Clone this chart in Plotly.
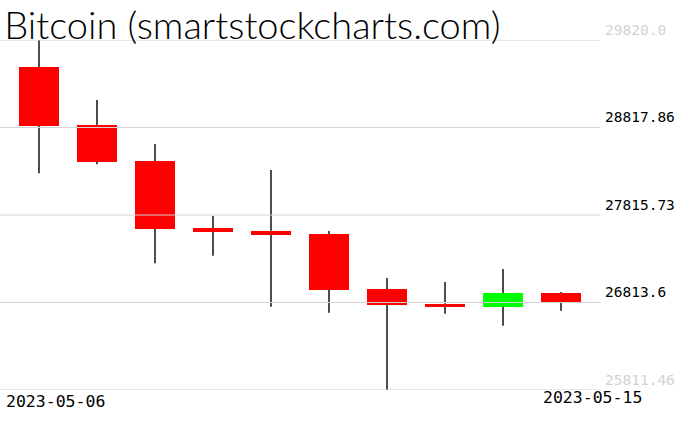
import plotly.graph_objects as go

dates = ['2023-05-06', '2023-05-07', '2023-05-08', '2023-05-09', '2023-05-10',
         '2023-05-11', '2023-05-12', '2023-05-13', '2023-05-14', '2023-05-15']
open_ = [29510, 28846, 28434, 27667, 27636, 27598, 26968, 26800, 26765, 26922]
high = [29820.0, 29133, 28629, 27804, 28331, 27632, 27094, 27048, 27197, 26934]
low = [28293, 28396, 27263, 27350, 26766, 26697, 25811.46, 26685, 26548, 26720]
close = [28840, 28426, 27659, 27625, 27590, 26960, 26788, 26762, 26922, 26819]

tick_vals = [25811.46, 26813.595, 27815.73, 28817.865, 29820.0]
tick_text = ['25811.46', '26813.6', '27815.73', '28817.86', '29820.0']
title_text = 'Bitcoin (smartstockcharts.com)'

UP = '#00FF00'
DOWN = '#FF0000'
GRID = '#D3D3D3'

fig = go.Figure()

# bodies
base = [min(o, c) for o, c in zip(open_, close)]
top = [max(o, c) for o, c in zip(open_, close)]
height = [abs(c - o) for o, c in zip(open_, close)]
colors = [UP if c > o else DOWN for o, c in zip(open_, close)]
fig.add_trace(go.Bar(x=dates, y=height, base=base, width=0.69,
                     marker=dict(color=colors, line=dict(width=0)),
                     showlegend=False))

# wicks (outside the bodies only, so the bodies hide them)
wx, wy = [], []
for d, lo, hi, b, t in zip(dates, low, high, base, top):
    wx += [d, d, None, d, d, None]
    wy += [lo, b, None, t, hi, None]
fig.add_trace(go.Scatter(x=wx, y=wy, mode='lines',
                         line=dict(color='black', width=1.4),
                         hoverinfo='skip', showlegend=False))

# gridlines above traces
for v in tick_vals:
    fig.add_shape(type='line', xref='paper', x0=0, x1=1, yref='y', y0=v, y1=v,
                  line=dict(color=GRID, width=1), layer='above')

ttext = []
for i, t in enumerate(tick_text):
    if i == 0 or i == len(tick_text) - 1:
        ttext.append('<span style="color:%s">%s</span>' % (GRID, t))
    else:
        ttext.append(t)

fig.update_layout(
    width=676, height=431,
    margin=dict(l=0, r=76, t=40, b=41),
    paper_bgcolor='white', plot_bgcolor='white',
    bargap=0,
    title=dict(text=title_text, x=0.007, xanchor='left', xref='paper',
               y=1 - 26 / 431, yanchor='middle', yref='container',
               font=dict(family='Lato', size=38, color='black', weight=300)),
    xaxis=dict(type='category', range=[-0.672, 9.672], showgrid=False,
               showticklabels=False, zeroline=False, showline=False, ticks=''),
    yaxis=dict(side='right', range=[min(low), max(high)], tickvals=tick_vals,
               ticktext=ttext, showgrid=False, zeroline=False, showline=False,
               ticks='', ticklabelposition='outside top', ticklabelstandoff=4,
               tickfont=dict(family='DejaVu Sans Mono', size=14.5, color='black')),
    annotations=[
        dict(text=dates[0], xref='x', x=dates[0], xanchor='left', xshift=-35,
             yref='paper', y=0, yanchor='top', yshift=0, showarrow=False,
             font=dict(family='DejaVu Sans Mono', size=16.5, color='black')),
        dict(text=dates[-1], xref='x', x=dates[-1], xanchor='left', xshift=-20,
             yref='paper', y=0, yanchor='top', yshift=4, showarrow=False,
             font=dict(family='DejaVu Sans Mono', size=16.5, color='black')),
    ],
)

fig.write_html('out.html', config={'displayModeBar': False},
               post_script="document.body.style.margin='0';document.body.style.overflow='hidden';")
